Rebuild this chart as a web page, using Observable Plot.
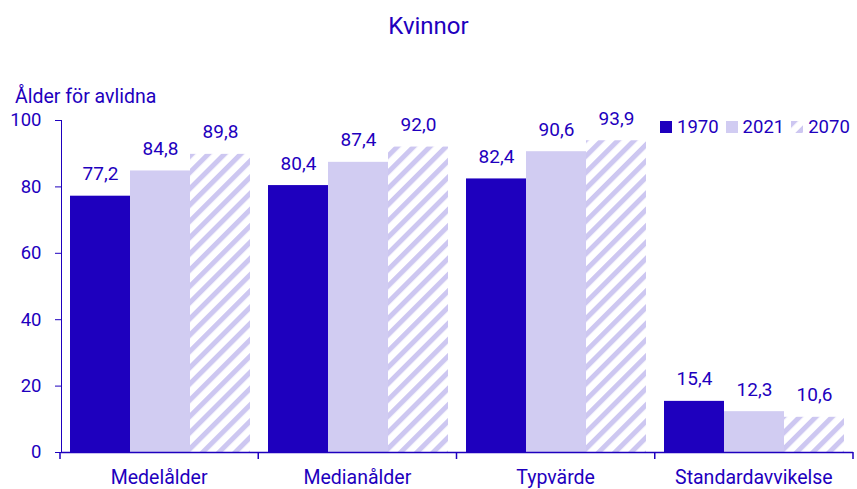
<!DOCTYPE html>
<html>
<head>
<meta charset="utf-8">
<script src="https://cdn.jsdelivr.net/npm/d3@7"></script>
<script src="https://cdn.jsdelivr.net/npm/@observablehq/plot@0.6"></script>
<style>
  body { margin: 0; background: #fff; font-family: Roboto, sans-serif; }
  #wrap { position: relative; width: 857px; height: 489px; }
  #title { position: absolute; left: 0; width: 857px; top: 14px; line-height: 24px; text-align: center; font-size: 24px; color: #1e00be; }
  #ylabel { position: absolute; left: 15px; top: 87px; line-height: 20px; font-size: 19.5px; color: #1e00be; }
  #legend { position: absolute; left: 660px; top: 117px; line-height: 20px; font-size: 18.5px; color: #1e00be; display: flex; align-items: center; }
  #legend span.item { display: inline-flex; align-items: center; margin-right: 7px; }
  #chart { position: absolute; left: 0; top: 0; }
  #chart svg { overflow: visible; }
</style>
</head>
<body>
<svg width="0" height="0" style="position:absolute">
  <defs>
    <pattern id="hatch" patternUnits="userSpaceOnUse" width="11.5" height="11.5" patternTransform="rotate(45)">
      <rect x="0" y="0" width="11.5" height="11.5" fill="#ffffff"></rect>
      <rect x="0" y="0" width="5" height="11.5" fill="#cdc7f1"></rect>
    </pattern>
  </defs>
</svg>
<div id="wrap">
  <div id="title">Kvinnor</div>
  <div id="ylabel">Ålder för avlidna</div>
  <div id="chart"></div>
  <div id="legend"></div>
</div>
<script>
const categories = ["Medelålder", "Medianålder", "Typvärde", "Standardavvikelse"];
const years = ["1970", "2021", "2070"];
const values1970 = [77.2, 80.4, 82.4, 15.4];
const values2021 = [84.8, 87.4, 90.6, 12.3];
const values2070 = [89.8, 92.0, 93.9, 10.6];
const yTicks = [0, 20, 40, 60, 80, 100];

const series = {"1970": values1970, "2021": values2021, "2070": values2070};
const fills = {"1970": "#1e00be", "2021": "#d1ccf2", "2070": "url(#hatch)"};
const blue = "#1e00be";

const data = [];
categories.forEach((c, i) => years.forEach(y => data.push({cat: c, year: y, value: series[y][i]})));

const fmt = v => v.toFixed(1).replace(".", ",");

const plot = Plot.plot({
  width: 857,
  height: 489,
  marginLeft: 60,
  marginRight: 4,
  marginTop: 120,
  marginBottom: 37,
  style: {fontFamily: "Roboto, sans-serif", fontSize: "18.5px", color: blue, background: "transparent"},
  fx: {domain: categories, padding: 0, label: null, axis: null},
  x: {domain: years, paddingInner: 0, paddingOuter: 0.15, axis: null},
  y: {domain: [0, 100], ticks: yTicks, tickSize: 6, tickPadding: 14, label: null, line: true},
  marks: [
    Plot.barY(data, {fx: "cat", x: "year", y: "value", fill: d => fills[d.year]}),
    Plot.text(data, {fx: "cat", x: "year", y: "value", text: d => fmt(d.value), dy: -22, fill: blue, fontSize: 19}),
    Plot.ruleY([0], {stroke: blue, strokeWidth: 1.5})
  ]
});

document.getElementById("chart").appendChild(plot);

// category boundary ticks and labels on the x axis, from the fx scale
const fx = plot.scale("fx");
const fxScale = d3.scaleBand().domain(fx.domain).range(fx.range).padding(0);
const svg = d3.select(plot);
const y0 = plot.scale("y");
const yScale = d3.scaleLinear().domain(y0.domain).range(y0.range);
const base = yScale(0);
const bounds = categories.map(c => fxScale(c)).concat([fxScale(categories[categories.length - 1]) + fxScale.bandwidth()]);
const g = svg.append("g");
g.selectAll("line").data(bounds).join("line")
  .attr("x1", d => d).attr("x2", d => d)
  .attr("y1", base).attr("y2", base + 7)
  .attr("stroke", blue).attr("stroke-width", 1.5);
g.selectAll("text").data(categories).join("text")
  .attr("x", d => fxScale(d) + fxScale.bandwidth() / 2)
  .attr("y", base + 32)
  .attr("text-anchor", "middle")
  .attr("fill", blue)
  .attr("font-size", 19.5)
  .text(d => d);

// legend
const legend = d3.select("#legend");
years.forEach(y => {
  const item = legend.append("span").attr("class", "item");
  const sw = item.append("svg").attr("width", 12).attr("height", 12).style("margin-right", "5px");
  sw.append("rect").attr("width", 12).attr("height", 12).attr("fill", fills[y]);
  item.append("span").text(y);
});
</script>
</body>
</html>
